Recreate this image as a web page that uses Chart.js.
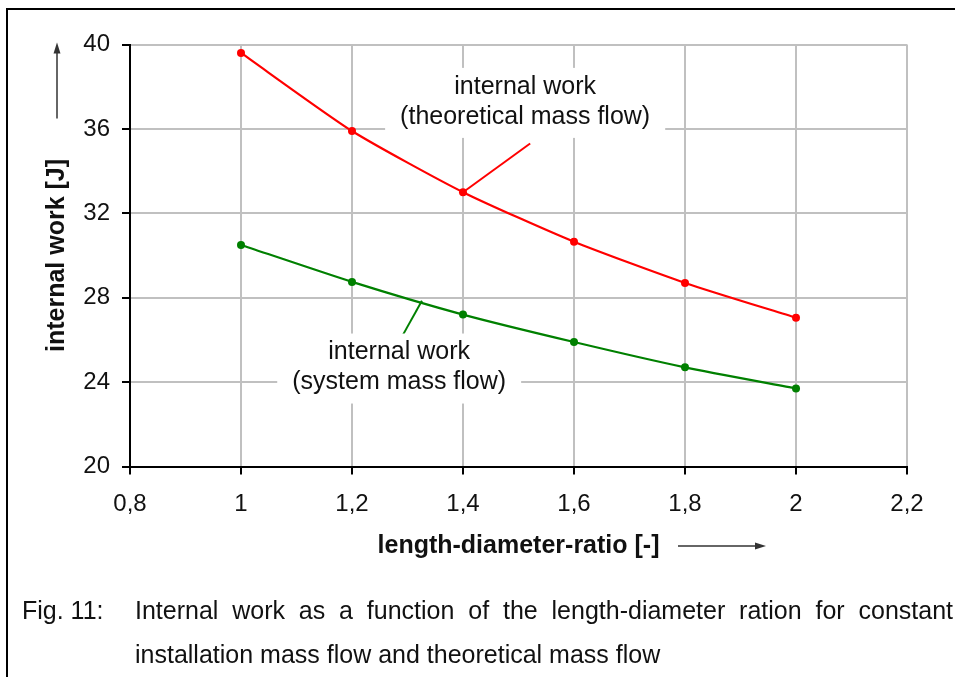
<!DOCTYPE html>
<html>
<head>
<meta charset="utf-8">
<script src="https://cdn.jsdelivr.net/npm/chart.js@4.4.0/dist/chart.umd.min.js"></script>
<style>
  html, body { margin: 0; padding: 0; background: #fff; }
  body { width: 955px; height: 677px; position: relative; overflow: hidden;
         font-family: 'Liberation Sans', Arial, sans-serif; }
  #frame { position: absolute; left: 6px; top: 8px; width: 980px; height: 700px;
           border-top: 2px solid #000; border-left: 2px solid #000; }
  #chart { position: absolute; left: 0; top: 0; }
  .cap { position: absolute; font-size: 25px; line-height: 44px; color: #111; }
  #fig { left: 22px; top: 588px; }
  #capText { left: 135px; top: 588px; width: 818px; text-align: justify; }
</style>
</head>
<body>
<div id="frame"></div>
<canvas id="chart" width="955" height="677"></canvas>
<div class="cap" id="fig">Fig. 11:</div>
<div class="cap" id="capText">Internal work as a function of the length-diameter ration for constant installation mass flow and theoretical mass flow</div>

<script>
// length-diameter ratios (x) and internal work in J (y)
const ratios = [1, 1.2, 1.4, 1.6, 1.8, 2];
const workTheoretical = [39.6, 35.9, 33.0, 30.65, 28.7, 27.05];
const workSystem = [30.5, 28.75, 27.2, 25.9, 24.7, 23.7];

// axis ranges
const xMin = 0.8, xMax = 2.2, xStep = 0.2;
const yMin = 20, yMax = 40, yStep = 4;

const toPoints = (xs, ys) => xs.map((v, i) => ({x: v, y: ys[i]}));
const fmt = v => String(Math.round(v * 10) / 10).replace('.', ',');

// text boxes with pointer lines, placed in data units
const notes = [
    {
        lines: ['internal work', '(theoretical mass flow)'],
        at: [1.512, 37.28],
        color: '#ff0000',
        from: [ratios[2], workTheoretical[2]],
        to: [1.521, 35.31]
    },
    {
        lines: ['internal work', '(system mass flow)'],
        at: [1.285, 24.69],
        color: '#008000',
        from: [1.326, 27.86],
        to: [1.292, 26.25]
    }
];

const notesPlugin = {
    id: 'notes',
    beforeDatasetsDraw(chart) {
        const {ctx, scales: {x, y}} = chart;
        ctx.save();
        ctx.font = '25px "Liberation Sans", Arial, sans-serif';
        notes.forEach(n => {
            // pointer
            ctx.strokeStyle = n.color;
            ctx.lineWidth = 2;
            ctx.beginPath();
            ctx.moveTo(x.getPixelForValue(n.from[0]), y.getPixelForValue(n.from[1]));
            ctx.lineTo(x.getPixelForValue(n.to[0]), y.getPixelForValue(n.to[1]));
            ctx.stroke();

            const cx = x.getPixelForValue(n.at[0]);
            const cy = y.getPixelForValue(n.at[1]);
            const w = Math.max(...n.lines.map(t => ctx.measureText(t).width)) + 30;
            const h = 70;
            ctx.fillStyle = '#fff';
            ctx.fillRect(cx - w / 2, cy - h / 2 + 1, w, h);

            ctx.fillStyle = '#111';
            ctx.textAlign = 'center';
            ctx.textBaseline = 'middle';
            ctx.fillText(n.lines[0], cx, cy - 15);
            ctx.fillText(n.lines[1], cx, cy + 15);
        });
        ctx.restore();
    },
    afterDraw(chart) {
        // arrows next to the axis titles
        const {ctx, chartArea: a} = chart;
        ctx.save();
        ctx.strokeStyle = '#333';
        ctx.fillStyle = '#333';
        ctx.lineWidth = 1.5;

        const ax = 57;
        ctx.beginPath();
        ctx.moveTo(ax, a.top + 74);
        ctx.lineTo(ax, a.top + 6);
        ctx.stroke();
        ctx.beginPath();
        ctx.moveTo(ax, a.top - 2);
        ctx.lineTo(ax - 3.5, a.top + 9);
        ctx.lineTo(ax + 3.5, a.top + 9);
        ctx.closePath();
        ctx.fill();

        const ay = 546;
        ctx.beginPath();
        ctx.moveTo(a.left + 548, ay);
        ctx.lineTo(a.left + 628, ay);
        ctx.stroke();
        ctx.beginPath();
        ctx.moveTo(a.left + 636, ay);
        ctx.lineTo(a.left + 625, ay - 3.5);
        ctx.lineTo(a.left + 625, ay + 3.5);
        ctx.closePath();
        ctx.fill();
        ctx.restore();
    }
};

Chart.defaults.font.family = '"Liberation Sans", Arial, sans-serif';
Chart.defaults.font.size = 24;
Chart.defaults.color = '#111';

new Chart(document.getElementById('chart'), {
    type: 'line',
    data: {
        datasets: [
            {
                label: 'internal work (theoretical mass flow)',
                data: toPoints(ratios, workTheoretical),
                borderColor: '#ff0000',
                backgroundColor: '#ff0000',
                borderWidth: 2.2,
                pointRadius: 4,
                pointBorderWidth: 0,
                tension: 0.2
            },
            {
                label: 'internal work (system mass flow)',
                data: toPoints(ratios, workSystem),
                borderColor: '#008000',
                backgroundColor: '#008000',
                borderWidth: 2.2,
                pointRadius: 4,
                pointBorderWidth: 0,
                tension: 0.2
            }
        ]
    },
    options: {
        responsive: false,
        animation: false,
        devicePixelRatio: 1,
        layout: {
            padding: {top: 44.5, right: 48, bottom: 100.5, left: 0}
        },
        plugins: {
            legend: {display: false},
            tooltip: {enabled: false}
        },
        scales: {
            x: {
                type: 'linear',
                min: xMin,
                max: xMax,
                afterFit: s => { s.height = 110; },
                ticks: {stepSize: xStep, padding: 15, callback: fmt, maxRotation: 0},
                grid: {color: '#c0c0c0', lineWidth: 2, tickColor: '#000', tickWidth: 2, tickLength: 8},
                border: {color: '#000', width: 2},
                title: {
                    display: true,
                    text: 'length-diameter-ratio [-]',
                    font: {size: 25, weight: 'bold'},
                    padding: {top: 0, bottom: 15.5}
                }
            },
            y: {
                min: yMin,
                max: yMax,
                afterFit: s => { s.width = 130; },
                ticks: {stepSize: yStep, padding: 12},
                grid: {color: '#c0c0c0', lineWidth: 2, tickColor: '#000', tickWidth: 2, tickLength: 8},
                border: {color: '#000', width: 2},
                title: {
                    display: true,
                    text: 'internal work [J]',
                    font: {size: 25, weight: 'bold'},
                    padding: {top: 42, bottom: 0}
                }
            }
        }
    },
    plugins: [notesPlugin]
});
</script>
</body>
</html>
